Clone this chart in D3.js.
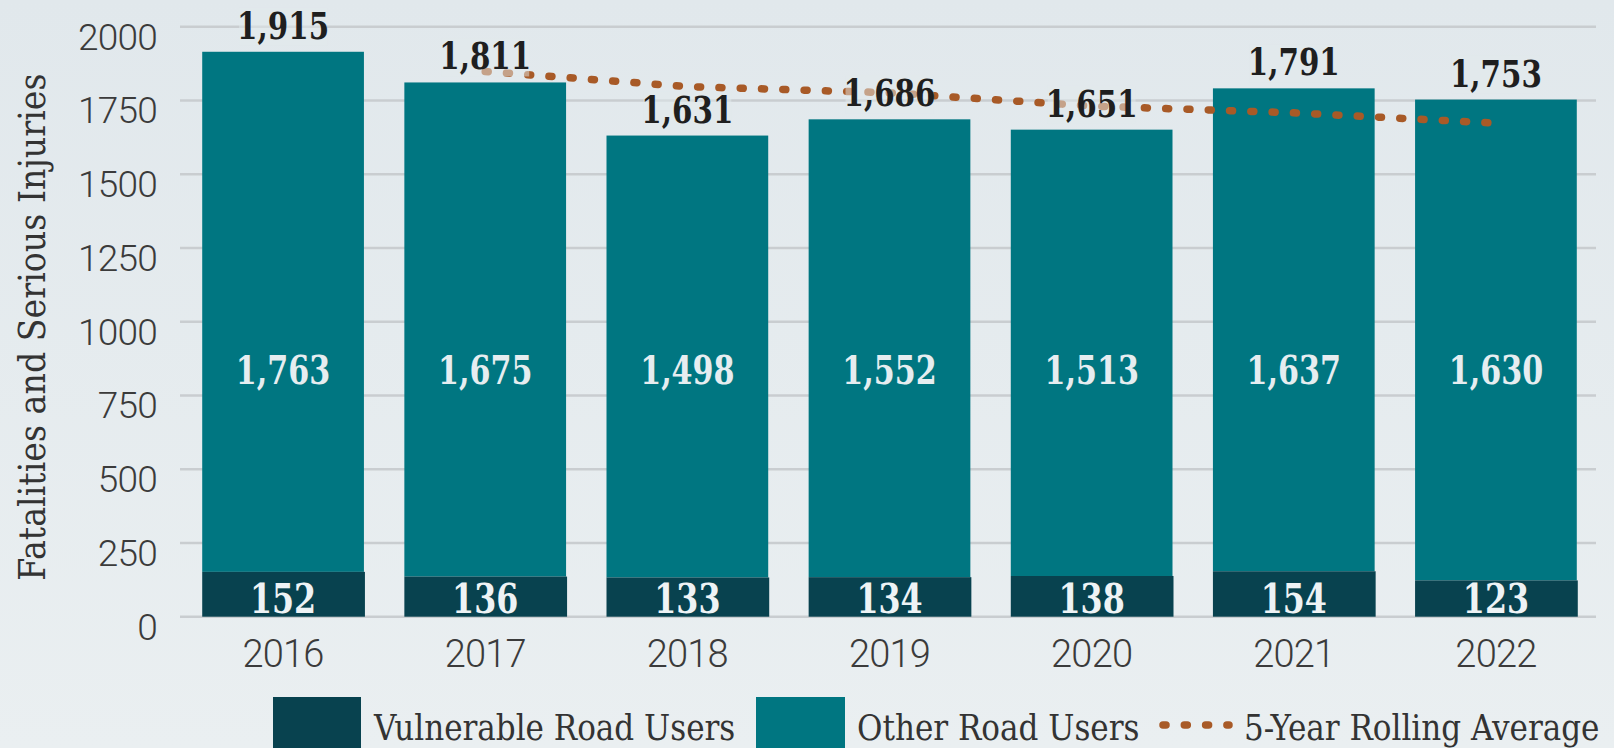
<!DOCTYPE html>
<html>
<head>
  <meta charset="utf-8">
  <script src="https://d3js.org/d3.v7.min.js"></script>
  <style>
    html, body { margin: 0; padding: 0; }
    body { width: 1614px; height: 748px; overflow: hidden;
           background: linear-gradient(#e1e8ec, #eaeff1); }
    .tick-label { font-family: Roboto, "Open Sans", sans-serif; font-weight: 300; fill: #3b3b3b; }
    .slab { font-family: "DejaVu Serif Condensed", "DejaVu Serif", serif; }
  </style>
</head>
<body>
<script>
  // chart values
  var years = ["2016", "2017", "2018", "2019", "2020", "2021", "2022"];
  var vulnerable = [152, 136, 133, 134, 138, 154, 123];
  var other = [1763, 1675, 1498, 1552, 1513, 1637, 1630];
  var totals = [1915, 1811, 1631, 1686, 1651, 1791, 1753];
  var avgYears = ["2017", "2018", "2019", "2020", "2021", "2022"];
  var rollingAvg = [1848, 1797, 1776, 1731, 1708, 1673];
  var yTicks = [0, 250, 500, 750, 1000, 1250, 1500, 1750, 2000];

  var width = 1614, height = 748;
  var darkBlue = "#08424f", teal = "#007681", rust = "#a85a27";

  var svg = d3.select("body").append("svg")
      .attr("width", width)
      .attr("height", height);

  var x = d3.scaleBand().domain(years).range([182, 1597])
      .paddingInner(0.2).paddingOuter(0.1);
  var y = d3.scaleLinear().domain([0, 2000]).range([616.7, 26.7]);

  var fmt = d3.format(",");
  function cx(d) { return x(d) + x.bandwidth() / 2; }

  // bold slab labels are narrower in the original, so squeeze them a bit
  function label(g, px, py, txt, size, color) {
    g.append("text")
      .attr("class", "slab")
      .attr("transform", "translate(" + px + "," + py + ") scale(0.86,1)")
      .attr("text-anchor", "middle")
      .style("font-size", size + "px").style("font-weight", "bold")
      .attr("fill", color)
      .text(txt);
  }

  /* gridlines + tick labels */
  svg.append("g").selectAll("line").data(yTicks).enter().append("line")
      .attr("x1", 180).attr("x2", 1596)
      .attr("y1", function(d) { return y(d); })
      .attr("y2", function(d) { return y(d); })
      .attr("stroke", "#c9cdd0").attr("stroke-width", 2.5);

  svg.append("g").selectAll("text").data(yTicks).enter().append("text")
      .attr("class", "tick-label")
      .attr("x", 157)
      .attr("y", function(d) { return y(d) + 10; })
      .attr("dy", "0.35em")
      .attr("text-anchor", "end")
      .style("font-size", "37px")
      .style("letter-spacing", "-0.8px")
      .text(function(d) { return d; });

  /* year labels */
  svg.append("g").selectAll("text").data(years).enter().append("text")
      .attr("class", "tick-label")
      .attr("x", cx)
      .attr("y", 667)
      .attr("text-anchor", "middle")
      .style("font-size", "38px")
      .style("letter-spacing", "-0.8px")
      .text(function(d) { return d; });

  /* y axis title */
  svg.append("text")
      .attr("class", "slab")
      .attr("transform", "translate(45,327) rotate(-90)")
      .attr("text-anchor", "middle")
      .style("font-size", "37px")
      .attr("fill", "#333")
      .text("Fatalities and Serious Injuries");

  /* bars */
  var bars = svg.append("g");
  bars.selectAll("rect.other").data(years).enter().append("rect")
      .attr("class", "other")
      .attr("x", function(d) { return x(d); })
      .attr("width", x.bandwidth())
      .attr("y", function(d, i) { return y(vulnerable[i] + other[i]); })
      .attr("height", function(d, i) { return y(vulnerable[i]) - y(vulnerable[i] + other[i]); })
      .attr("fill", teal);
  bars.selectAll("rect.vru").data(years).enter().append("rect")
      .attr("class", "vru")
      .attr("x", function(d) { return x(d); })
      .attr("width", x.bandwidth() + 1)
      .attr("y", function(d, i) { return y(vulnerable[i]); })
      .attr("height", function(d, i) { return y(0) - y(vulnerable[i]); })
      .attr("fill", darkBlue);

  /* labels inside the bars */
  var inner = svg.append("g");
  years.forEach(function(d, i) {
    label(inner, cx(d), y(790), fmt(other[i]), 39, "#e6edf0");
    label(inner, cx(d), y(14), vulnerable[i], 41, "#eef3f5");
  });

  /* rolling average */
  var line = d3.line()
      .x(function(d, i) { return cx(avgYears[i]); })
      .y(function(d) { return y(d); });

  svg.append("path")
      .datum(rollingAvg)
      .attr("d", line)
      .attr("fill", "none")
      .attr("stroke", rust)
      .attr("stroke-width", 7.5)
      .attr("stroke-linecap", "round")
      .attr("stroke-dasharray", "3 18.3");

  /* totals on top, with a faint backdrop so the dots fade behind them */
  var tot = svg.append("g");
  years.forEach(function(d, i) {
    tot.append("rect")
      .attr("x", cx(d) - 44)
      .attr("y", y(totals[i]) - 44)
      .attr("width", 88).attr("height", 38)
      .attr("fill", "#e2e9ec").attr("opacity", 0.5);
    label(tot, cx(d), y(totals[i]) - 13, fmt(totals[i]), 38, "#1f1f1f");
  });

  /* legend */
  var legend = svg.append("g").attr("class", "slab")
      .style("font-size", "34.5px").attr("fill", "#333");
  legend.append("rect").attr("x", 273).attr("y", 697).attr("width", 88).attr("height", 60).attr("fill", darkBlue);
  legend.append("text").attr("x", 374).attr("y", 740).text("Vulnerable Road Users");
  legend.append("rect").attr("x", 756).attr("y", 697).attr("width", 89).attr("height", 60).attr("fill", teal);
  legend.append("text").attr("x", 857).attr("y", 740).text("Other Road Users");
  legend.append("line").attr("x1", 1163).attr("x2", 1229).attr("y1", 725).attr("y2", 725)
      .attr("stroke", rust).attr("stroke-width", 7.5)
      .attr("stroke-linecap", "round").attr("stroke-dasharray", "3 18.3");
  legend.append("text").attr("x", 1244).attr("y", 740).text("5-Year Rolling Average");
</script>
</body>
</html>
